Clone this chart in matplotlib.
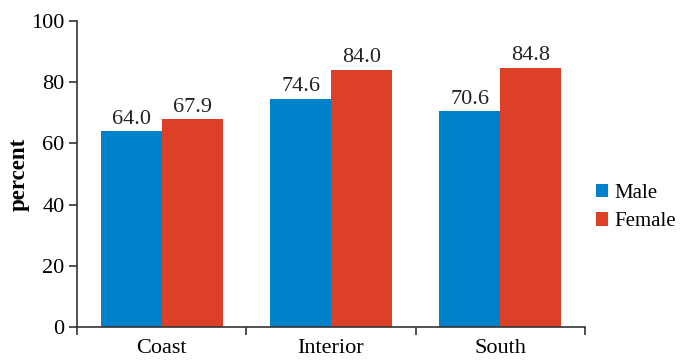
import matplotlib
matplotlib.use("Agg")
import matplotlib.pyplot as plt
import numpy as np

regions = ["Coast", "Interior", "South"]
male = [64.0, 74.6, 70.6]
female = [67.9, 84.0, 84.8]
y_ticks = [0, 20, 40, 60, 80, 100]

plt.rcParams['font.family'] = ['Liberation Serif', 'DejaVu Serif']

fig = plt.figure(figsize=(6.82, 3.6), dpi=100)
ax = fig.add_axes([0.1129, 0.0917, 0.7449, 0.85])

blue = "#0081CB"
red = "#DC4128"
w = 0.36
x = np.arange(len(regions))
b1 = ax.bar(x - w / 2, male, w, color=blue, label="Male")
b2 = ax.bar(x + w / 2, female, w, color=red, label="Female")

for bars, vals in ((b1, male), (b2, female)):
    for bar, v in zip(bars, vals):
        ax.text(bar.get_x() + bar.get_width() / 2, v + 0.8, f"{v:.1f}",
                ha="center", va="bottom", fontsize=16, color="#222222")

ax.set_xlim(-0.5, len(regions) - 0.5)
ax.set_ylim(0, 100)
ax.set_yticks(y_ticks)
ax.set_xticks(x)
ax.set_xticklabels(regions)
ax.set_xticks(np.arange(len(regions) + 1) - 0.5, minor=True)
ax.tick_params(axis="x", which="major", length=0, pad=9, labelsize=16)
ax.tick_params(axis="x", which="minor", length=6, width=1.2, color="#333333", direction="out")
ax.tick_params(axis="y", length=6, width=1.2, color="#333333", labelsize=16, pad=3)

for s in ("top", "right"):
    ax.spines[s].set_visible(False)
for s in ("left", "bottom"):
    ax.spines[s].set_linewidth(1.2)
    ax.spines[s].set_color("#333333")

ax.set_ylabel("percent", fontsize=16.5, fontweight="bold", labelpad=1)

ax.legend(loc="center left", bbox_to_anchor=(1.005, 0.39), frameon=False,
          fontsize=15, handlelength=0.6, handleheight=0.6,
          handletextpad=0.3, labelspacing=0.45, borderaxespad=0.0,
          borderpad=0.4)

fig.savefig("out.png", dpi=100)
